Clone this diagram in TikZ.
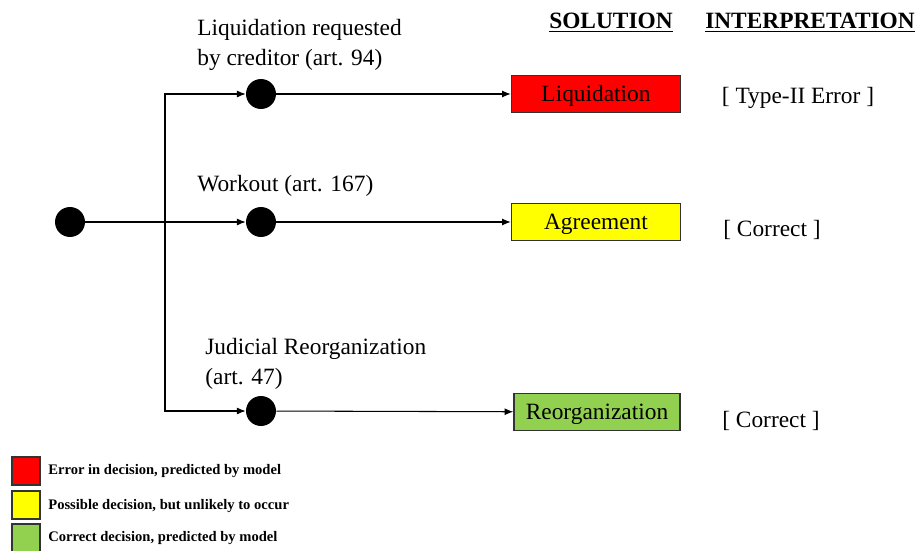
\documentclass[tikz,border=0pt]{standalone}
\usepackage{fontspec}
\setmainfont{Liberation Serif}
\usetikzlibrary{arrows.meta}
\tikzset{
  dot/.style={circle,fill=black,inner sep=0pt,minimum size=0.6cm},
  solbox/.style={draw=black!80,line width=0.8pt,minimum width=3.38cm,minimum height=0.74cm,inner sep=0pt,text height=13pt,text depth=4pt,font=\fontsize{13.3}{16}\selectfont},
  legbox/.style={draw=black!80,line width=0.8pt,minimum size=0.56cm,inner sep=0pt},
  lbl/.style={font=\fontsize{13.3}{17}\selectfont,align=left,inner sep=0pt},
  leg/.style={font=\fontsize{8.3}{10}\selectfont\bfseries,anchor=west,inner sep=0pt},
  arr/.style={-{Latex[length=5pt,width=4pt]},line width=0.6pt}
}
\definecolor{solred}{HTML}{FF0000}
\definecolor{solyellow}{HTML}{FFFF00}
\definecolor{solgreen}{HTML}{92D050}
\begin{document}
\begin{tikzpicture}[x=0.02cm,y=-0.02cm]
\useasboundingbox (0,0) rectangle (917,551);
\node[dot] (root) at (70,222) {};
\coordinate (fork) at (165,222);
\node[dot] (liq) at (261,94) {};
\node[dot] (work) at (261,222) {};
\node[dot] (jud) at (261,411) {};
\draw[line width=0.6pt] (root) -- (fork);
\draw[arr] (fork) |- (liq);
\draw[arr] (fork) -- (work);
\draw[arr] (fork) |- (jud);
\node[lbl,anchor=west] (liqlbl) at (197,45) {Liquidation requested\\by creditor (art. 94)};
\node[lbl,anchor=west] (worklbl) at (197,186) {Workout (art. 167)};
\node[lbl,anchor=west] (judlbl) at (205,364) {Judicial Reorganization\\(art. 47)};
\node[solbox,fill=solred] (sliq) at (596,94) {Liquidation};
\node[solbox,fill=solyellow] (sagr) at (596,222) {Agreement};
\node[solbox,fill=solgreen,minimum width=3.32cm] (sreo) at (597,412) {Reorganization};
\draw[arr] (liq) -- (sliq);
\draw[arr] (work) -- (sagr);
\draw[arr] (jud) -- (sreo);
\node[lbl,font=\fontsize{13.3}{16}\selectfont\bfseries] (hsol) at (611,23) {\underline{SOLUTION}};
\node[lbl,font=\fontsize{13.3}{16}\selectfont\bfseries] (hint) at (810,23) {\underline{INTERPRETATION}};
\node[lbl] (iliq) at (798,98) {[ Type-II Error ]};
\node[lbl] (iagr) at (772,230) {[ Correct ]};
\node[lbl] (ireo) at (771,421) {[ Correct ]};
\node[legbox,fill=solred] (kred) at (26,471) {};
\node[legbox,fill=solyellow] (kyel) at (26,505) {};
\node[legbox,fill=solgreen] (kgre) at (26,538) {};
\node[leg] at (48,471) {Error in decision, predicted by model};
\node[leg] at (48,506) {Possible decision, but unlikely to occur};
\node[leg] at (48,538) {Correct decision, predicted by model};
\end{tikzpicture}
\end{document}
